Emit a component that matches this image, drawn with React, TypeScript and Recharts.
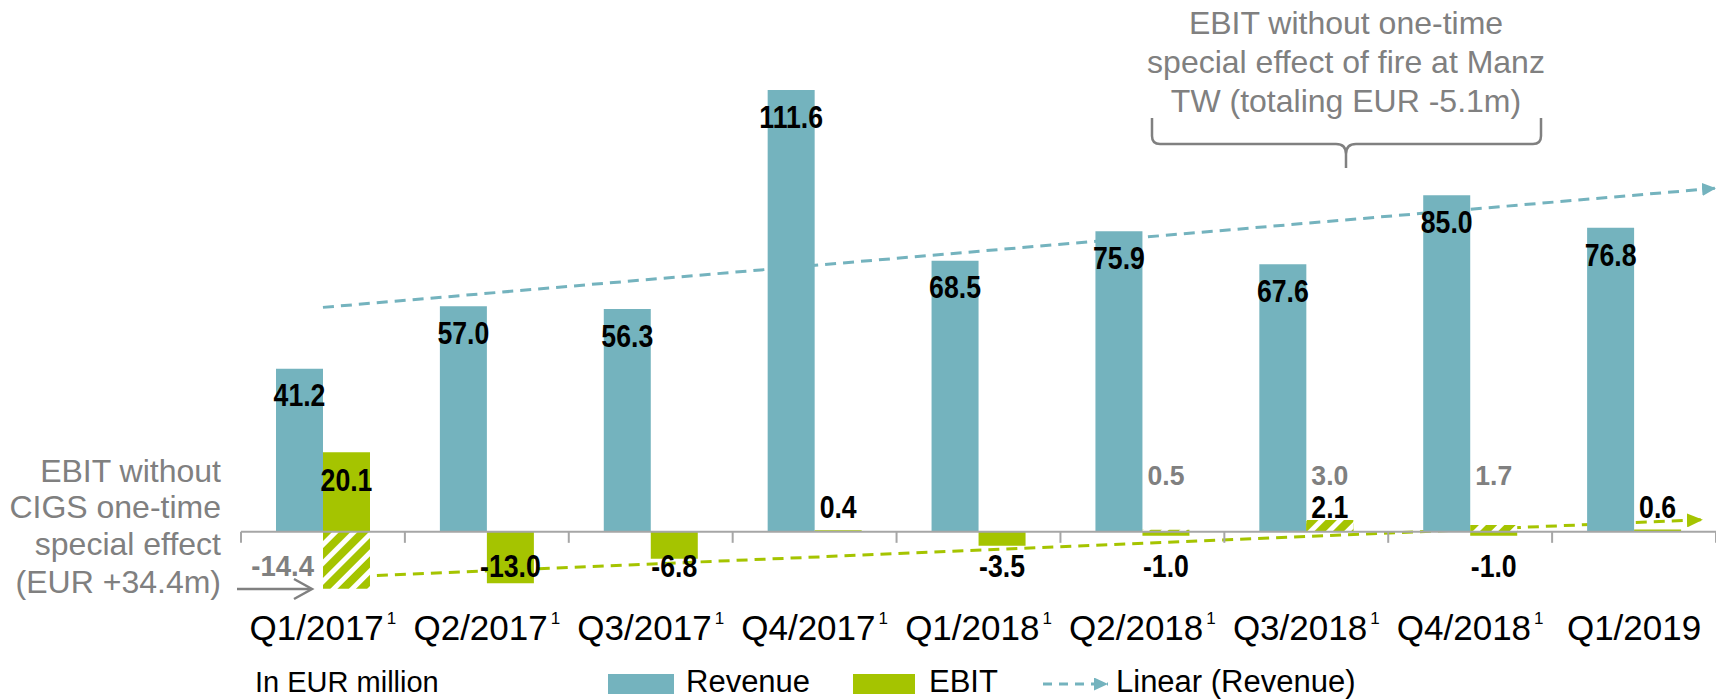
import { Bar, ComposedChart, LabelList, ReferenceLine, XAxis, YAxis } from 'recharts'

const QUARTERS = ['Q1/2017', 'Q2/2017', 'Q3/2017', 'Q4/2017', 'Q1/2018', 'Q2/2018', 'Q3/2018', 'Q4/2018', 'Q1/2019']
const HAS_FOOTNOTE = [true, true, true, true, true, true, true, true, false]
const REVENUE = [41.2, 57.0, 56.3, 111.6, 68.5, 75.9, 67.6, 85.0, 76.8]
const EBIT = [20.1, -13.0, -6.8, 0.4, -3.5, -1.0, 2.1, -1.0, 0.6]
// EBIT without one-time special effects (hatched)
const EBIT_ADJUSTED = [-14.4, null, null, null, null, 0.5, 3.0, 1.7, null]
// trend lines (x = quarter index)
const REVENUE_TREND = [{ x: 0, y: 56.7 }, { x: 8.5, y: 86.8 }]
const EBIT_TREND = [{ x: 0, y: -11.6 }, { x: 8.42, y: 3.05 }]

const TEAL = '#74B3BE'
const GREEN = '#A5C400'
const GREY = '#808080'
const AXIS = '#A6A6A6'
const FONT = "'Liberation Sans', Arial, sans-serif"
const LABEL_FONT = "'Liberation Sans Narrow', 'Arial Narrow', 'Liberation Sans', Arial, sans-serif"

const W = 1716
const H = 700
const MARGIN = { top: 37, right: 0, bottom: 59, left: 241 }
const X_AXIS_H = 30
const Y_DOMAIN: [number, number] = [-20, 125]
const PLOT_TOP = MARGIN.top
const PLOT_BOTTOM = H - MARGIN.bottom - X_AXIS_H
const ZERO_Y = PLOT_TOP + (Y_DOMAIN[1] / (Y_DOMAIN[1] - Y_DOMAIN[0])) * (PLOT_BOTTOM - PLOT_TOP)
const BAND = (W - MARGIN.left - MARGIN.right) / QUARTERS.length

const data = QUARTERS.map((q, i) => ({
  q,
  idx: i,
  revenue: REVENUE[i],
  ebit: EBIT[i],
  ebitAdj: EBIT_ADJUSTED[i],
}))

function box(props: any) {
  const vb = props.viewBox && props.viewBox.width !== undefined ? props.viewBox : props
  const x = Number(vb.x)
  const y = Number(vb.y)
  const w = Number(vb.width)
  const h = Number(vb.height)
  return { cx: x + w / 2, left: x, top: Math.min(y, y + h), bottom: Math.max(y, y + h) }
}

// condensed bold value label (the original uses a narrow face)
function Value({ x, y, anchor = 'middle', color = '#000', size = 31, squeeze = 0.86, children }: any) {
  return (
    <text
      transform={`translate(${x} ${y}) scale(${squeeze} 1)`}
      textAnchor={anchor}
      dominantBaseline="central"
      fill={color}
      style={{ fontFamily: LABEL_FONT, fontWeight: 700, fontSize: size }}
    >
      {children}
    </text>
  )
}

function RevenueLabel(props: any) {
  if (props.value == null) return null
  const b = box(props)
  return <Value x={b.cx} y={b.top + 27}>{Number(props.value).toFixed(1)}</Value>
}

function EbitLabel(props: any) {
  if (props.value == null) return null
  const v = Number(props.value)
  const b = box(props)
  const y = v >= 10 ? b.top + 28 : v >= 0 ? b.bottom - 25 : b.top + 34
  return <Value x={b.cx} y={y}>{v.toFixed(1)}</Value>
}

function AdjustedLabel(props: any) {
  if (props.value == null) return null
  const v = Number(props.value)
  const b = box(props)
  if (v < 0) {
    return (
      <Value x={b.left - 9} y={b.top + 34} anchor="end" color={GREY} size={29} squeeze={0.95}>
        {v.toFixed(1)}
      </Value>
    )
  }
  return (
    <Value x={b.cx} y={b.bottom - 57} color={GREY} size={28} squeeze={0.95}>
      {v.toFixed(1)}
    </Value>
  )
}

function QuarterTick(props: any) {
  const { x, y, payload } = props
  const i = payload.index
  return (
    <g>
      <line x1={x - BAND / 2} x2={x - BAND / 2} y1={ZERO_Y} y2={ZERO_Y + 11} stroke={AXIS} strokeWidth={2} />
      {i === QUARTERS.length - 1 && (
        <line x1={x + BAND / 2} x2={x + BAND / 2} y1={ZERO_Y} y2={ZERO_Y + 11} stroke={AXIS} strokeWidth={2} />
      )}
      <text x={x} y={y + 21} textAnchor="middle" fill="#000" style={{ fontFamily: FONT, fontSize: 35 }}>
        {payload.value}
        {HAS_FOOTNOTE[i] && (
          <tspan dx={3} dy={-16} style={{ fontSize: 17 }}>
            1
          </tspan>
        )}
      </text>
    </g>
  )
}

const trendShape = (color: string, marker: string) => (p: any) => (
  <line
    x1={p.x1}
    y1={p.y1}
    x2={p.x2}
    y2={p.y2}
    stroke={color}
    strokeWidth={3}
    strokeDasharray="11 7"
    markerEnd={`url(#${marker})`}
  />
)

export default function App() {
  const noteStyle = { fontFamily: FONT, fontSize: 32 }
  return (
    <div style={{ position: 'absolute', left: 0, top: 0, width: W, height: H, background: '#fff', overflow: 'hidden' }}>
      <svg width={0} height={0} style={{ position: 'absolute' }}>
        <defs>
          <pattern id="hatch" patternUnits="userSpaceOnUse" width="13" height="13" patternTransform="rotate(45)">
            <rect width="13" height="13" fill={GREEN} />
            <rect width="5" height="13" fill="#fff" />
          </pattern>
          <marker id="arrowTeal" viewBox="0 0 14 13" refX="14" refY="6.5" markerWidth="14" markerHeight="13" markerUnits="userSpaceOnUse" orient="auto">
            <path d="M0,0 L14,6.5 L0,13 z" fill={TEAL} />
          </marker>
          <marker id="arrowGreen" viewBox="0 0 16 14" refX="16" refY="7" markerWidth="16" markerHeight="14" markerUnits="userSpaceOnUse" orient="auto">
            <path d="M0,0 L16,7 L0,14 z" fill={GREEN} />
          </marker>
        </defs>
      </svg>

      <ComposedChart width={W} height={H} data={data} margin={MARGIN} barGap={0} barSize={47}>
        <XAxis dataKey="q" height={X_AXIS_H} axisLine={false} tickLine={false} tick={<QuarterTick />} interval={0} />
        <XAxis xAxisId="hatch" dataKey="q" hide />
        <XAxis xAxisId="num" dataKey="idx" type="number" domain={[-0.5, 8.5]} allowDataOverflow hide />
        <YAxis domain={Y_DOMAIN} allowDataOverflow hide />
        <YAxis yAxisId="hatchY" domain={Y_DOMAIN} allowDataOverflow hide />

        <ReferenceLine
          xAxisId="num"
          segment={REVENUE_TREND}
          ifOverflow="visible"
          zIndex={250}
          shape={trendShape(TEAL, 'arrowTeal')}
        />
        <ReferenceLine
          xAxisId="num"
          segment={EBIT_TREND}
          ifOverflow="visible"
          zIndex={250}
          shape={trendShape(GREEN, 'arrowGreen')}
        />

        <Bar dataKey="revenue" fill={TEAL} isAnimationActive={false}>
          <LabelList dataKey="revenue" content={<RevenueLabel />} />
        </Bar>
        <Bar dataKey="ebit" fill={GREEN} isAnimationActive={false}>
          <LabelList dataKey="ebit" content={<EbitLabel />} />
        </Bar>
        <Bar xAxisId="hatch" yAxisId="hatchY" dataKey="revenue" fill={TEAL} fillOpacity={0} isAnimationActive={false} />
        <Bar xAxisId="hatch" yAxisId="hatchY" dataKey="ebitAdj" fill="url(#hatch)" isAnimationActive={false}>
          <LabelList dataKey="ebitAdj" content={<AdjustedLabel />} />
        </Bar>

        <ReferenceLine y={0} stroke={AXIS} strokeWidth={2} />
      </ComposedChart>

      <svg width={W} height={H} style={{ position: 'absolute', left: 0, top: 0, pointerEvents: 'none' }}>
        {/* note on Q1/2017 */}
        <g fill={GREY} style={noteStyle} textAnchor="end">
          <text x={221} y={482}>EBIT without</text>
          <text x={221} y={518}>CIGS one-time</text>
          <text x={221} y={555}>special effect</text>
          <text x={221} y={593}>(EUR +34.4m)</text>
        </g>
        <g stroke={GREY} strokeWidth={2.5} fill="none">
          <line x1={237} y1={589} x2={311} y2={589} />
          <polyline points="294,579 312,589 294,599" />
        </g>

        {/* note on fire at Manz TW */}
        <g fill={GREY} style={noteStyle} textAnchor="middle">
          <text x={1346} y={34}>EBIT without one-time</text>
          <text x={1346} y={73}>special effect of fire at Manz</text>
          <text x={1346} y={112}>TW (totaling EUR -5.1m)</text>
        </g>
        <path
          d="M1152,118 L1152,136 Q1152,144 1160,144 L1336,144 Q1346,144 1346,154 L1346,168 M1346,154 Q1346,144 1356,144 L1533,144 Q1541,144 1541,136 L1541,118"
          stroke={GREY}
          strokeWidth={2.5}
          fill="none"
        />

        {/* legend */}
        <g style={{ fontFamily: FONT, fontSize: 31 }} fill="#000">
          <text x={255} y={692} style={{ fontSize: 29 }}>In EUR million</text>
          <rect x={608} y={674} width={66} height={20} fill={TEAL} />
          <text x={686} y={692}>Revenue</text>
          <rect x={853} y={674} width={62} height={20} fill={GREEN} />
          <text x={929} y={692}>EBIT</text>
          <line x1={1043} y1={684} x2={1108} y2={684} stroke={TEAL} strokeWidth={3} strokeDasharray="9 7" markerEnd="url(#arrowTeal)" />
          <text x={1116} y={692}>Linear (Revenue)</text>
        </g>
      </svg>
    </div>
  )
}
